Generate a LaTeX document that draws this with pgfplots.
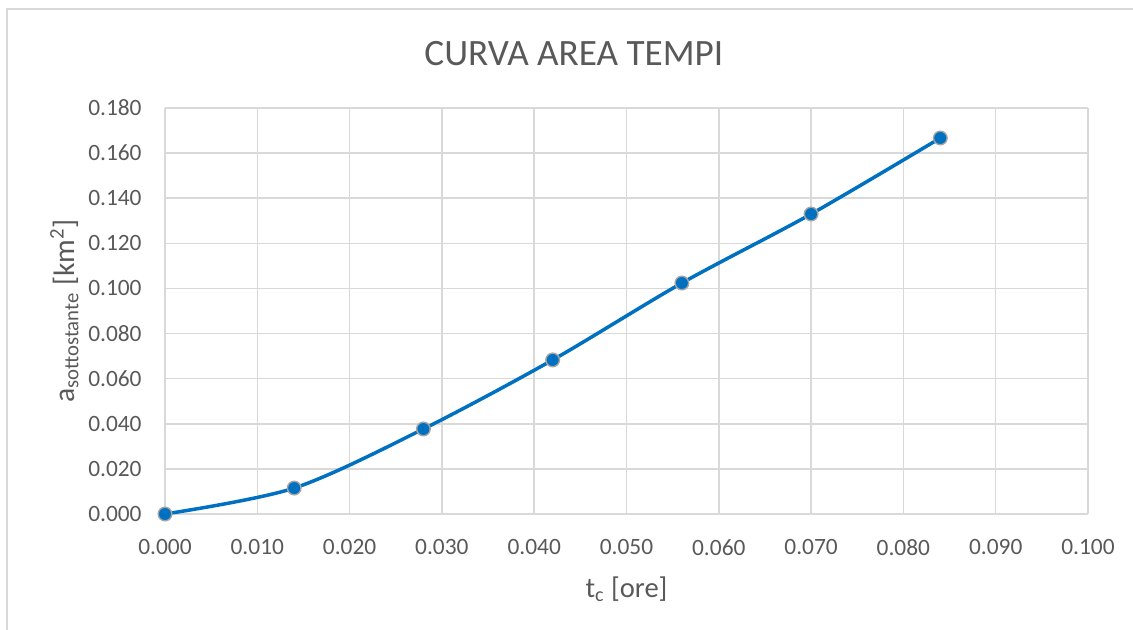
\documentclass[border=0pt]{standalone}
\usepackage{pgfplots}
\pgfplotsset{compat=1.18}
\usepackage{fontspec}
\setmainfont{Carlito}
\definecolor{txt}{HTML}{595959}
\definecolor{grd}{HTML}{D9D9D9}
\definecolor{ln}{HTML}{0070C0}
\definecolor{mk}{HTML}{A5A5A5}
\begin{document}
\begin{tikzpicture}
\path[use as bounding box] (-82.5pt,-58pt) rectangle (484pt,257pt);
\draw[grd, line width=0.75pt] (-79pt,-60pt) -- (-79pt,252.5pt) -- (490pt,252.5pt);
\begin{axis}[
  at={(0,0)}, anchor=south west,
  scale only axis,
  width=461.5pt, height=203pt,
  xmin=0, xmax=0.1, ymin=0, ymax=0.18,
  xtick={0,0.01,...,0.1001},
  ytick={0,0.02,...,0.1801},
  grid=major,
  major grid style={grd, line width=0.75pt},
  axis line style={grd, line width=0.75pt},
  axis x line*=bottom, axis y line*=left,
  major tick length=0pt,
  every axis title shift=0pt,
  /pgf/number format/.cd, fixed, fixed zerofill, precision=3, assume math mode=true,
  /pgfplots/.cd,
  tick label style={font=\fontsize{11.7pt}{13pt}\selectfont, text=txt},
  yticklabel style={inner sep=0pt, anchor=east, xshift=-11.5pt},
  xticklabel style={inner sep=0pt, anchor=north, yshift=-12.5pt},
  title={CURVA AREA TEMPI},
  title style={at={(axis description cs:0.443,1.133)}, anchor=center, inner sep=0pt, font=\fontsize{18.6pt}{20pt}\selectfont, text=txt},
  xlabel={t\textsubscript{c} [ore]},
  ylabel={a\textsubscript{sottostante} [km\textsuperscript{2}]},
  xlabel style={at={(axis description cs:0.5,-0.185)}, anchor=center, inner sep=0pt, font=\fontsize{14.3pt}{16pt}\selectfont, text=txt},
  ylabel style={at={(axis description cs:-0.109,0.5)}, anchor=center, rotate=0, inner sep=0pt, font=\fontsize{14.8pt}{16pt}\selectfont, text=txt},
  clip=false,
]
\addplot[ln, line width=1.75pt, smooth, tension=0.5,
  mark=*, mark size=3.4pt, mark options={fill=ln, draw=mk, line width=0.7pt}]
  coordinates {
  (0.000,0.0000)
  (0.014,0.0115)
  (0.028,0.0377)
  (0.042,0.0683)
  (0.056,0.1024)
  (0.070,0.1330)
  (0.084,0.1667)
  };
\end{axis}
\end{tikzpicture}
\end{document}
